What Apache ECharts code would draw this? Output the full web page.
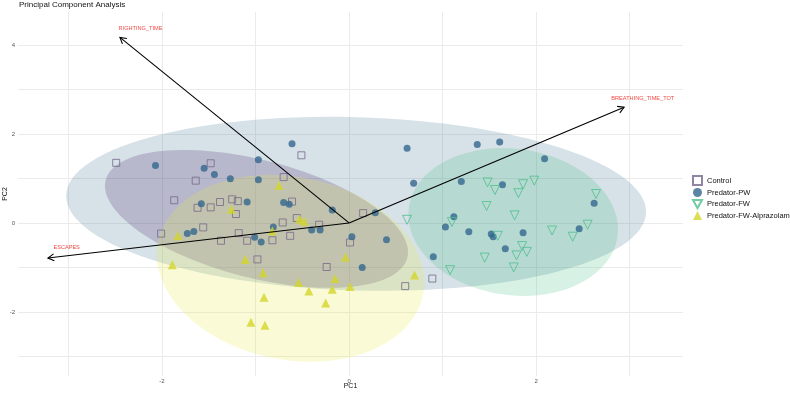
<!DOCTYPE html>
<html>
<head>
<meta charset="utf-8">
<script src="https://cdn.jsdelivr.net/npm/echarts@6/dist/echarts.min.js"></script>
<style>
html, body { margin: 0; padding: 0; background: #fff; }
#pca_chart { width: 790px; height: 393px; }
</style>
</head>
<body>
<div id="pca_chart"></div>
<script>
var groups = ['Control', 'Predator-PW', 'Predator-FW', 'Predator-FW-Alprazolam'];

// PC1 / PC2 scores
var control_pts = [
    [-2.49, 1.35], [-1.48, 1.34], [-1.64, 0.95], [-1.87, 0.51], [-1.62, 0.34],
    [-1.48, 0.35], [-1.38, 0.47], [-1.25, 0.53], [-1.19, 0.49], [-1.21, 0.20],
    [-2.01, -0.24], [-1.56, -0.10], [-1.18, -0.23], [-1.37, -0.40], [-1.09, -0.40],
    [-0.98, -0.82], [-0.51, 1.52], [-0.70, 1.03], [-0.61, 0.48], [0.15, 0.22],
    [-0.56, 0.11], [-0.71, 0.01], [-0.32, -0.04], [-0.82, -0.39], [-0.63, -0.29],
    [0.01, -0.44], [-0.24, -0.99], [0.60, -1.42], [0.89, -1.25]
];
var pw_pts = [
    [-2.07, 1.29], [-1.55, 1.23], [-1.44, 1.09], [-1.27, 0.99], [-0.97, 1.42],
    [-0.97, 0.97], [-1.58, 0.43], [-1.09, 0.47], [-1.73, -0.24], [-1.66, -0.19],
    [-1.01, -0.32], [-0.94, -0.43], [-0.61, 1.78], [-0.70, 0.46], [-0.64, 0.42],
    [-0.18, 0.29], [0.28, 0.23], [-0.81, -0.09], [-0.40, -0.16], [-0.31, -0.16],
    [0.03, -0.31], [0.40, -0.38], [0.14, -1.00], [0.62, 1.68], [0.69, 0.89],
    [1.37, 1.76], [1.61, 1.82], [2.09, 1.44], [1.20, 0.93], [1.64, 0.86],
    [2.62, 0.44], [1.12, 0.14], [1.03, -0.09], [1.28, -0.20], [1.52, -0.25],
    [1.54, -0.31], [1.86, -0.22], [2.46, -0.13], [1.67, -0.58], [0.90, -0.76]
];
var fw_pts = [
    [0.62, 0.07], [1.48, 0.91], [1.56, 0.74], [1.86, 0.87], [1.98, 0.95],
    [1.81, 0.67], [2.64, 0.65], [1.47, 0.38], [1.77, 0.17], [1.10, 0.02],
    [1.59, -0.29], [2.17, -0.17], [2.39, -0.31], [2.55, -0.04], [1.85, -0.52],
    [1.79, -0.73], [1.90, -0.65], [1.45, -0.78], [1.08, -1.06], [1.76, -1.00]
];
var alp_pts = [
    [-1.26, 0.31], [-0.75, 0.84], [-1.83, -0.29], [-1.89, -0.94], [-1.11, -0.82],
    [-0.82, -0.18], [-0.53, 0.09], [-0.48, 0.04], [-0.04, -0.77], [-0.92, -1.12],
    [-0.54, -1.34], [-0.43, -1.53], [-0.15, -1.25], [-0.18, -1.49], [0.01, -1.43],
    [-0.91, -1.67], [-0.25, -1.80], [-1.05, -2.23], [-0.90, -2.30], [0.70, -1.17]
];

// 95% ellipses: centre x, centre y, half width, half height, correlation
var ell_control = [-0.99, 0.09, 1.62, 1.55, -0.48];
var ell_pw = [0.075, 0.43, 3.10, 1.955, -0.09];
var ell_fw = [1.754, 0.02, 1.12, 1.66, -0.10];
var ell_alp = [-0.626, -1.02, 1.43, 2.10, -0.15];

// loading arrows
var loading_names = ['RIGHTING_TIME', 'BREATHING_TIME_TOT', 'ESCAPES'];
var loading_ends = [[-2.45, 4.17], [2.94, 2.60], [-3.22, -0.79]];
var loading_text_pos = [[-2.23, 4.36], [3.14, 2.80], [-3.02, -0.56]];

var x_labels = [-2, 0, 2];
var y_labels = [-2, 0, 2, 4];
var x_grid = [-3, -2, -1, 0, 1, 2, 3];
var y_grid = [-3, -2, -1, 0, 1, 2, 3, 4];

var pt_colors = ['#76688a', '#33678d', '#4fbf8d', '#d3d62a'];
var fill_colors = ['rgba(68,1,84,0.2)', 'rgba(49,104,142,0.2)', 'rgba(53,183,121,0.2)', 'rgba(232,236,70,0.22)'];

function ellipse_series(e, fill) {
    return {
        type: 'custom',
        silent: true,
        data: [[e[0], e[1]]],
        encode: { x: 0, y: 1 },
        renderItem: function (params, api) {
            var pts = [];
            var k = Math.sqrt(1 - e[4] * e[4]);
            for (var i = 0; i < 120; i++) {
                var t = i / 120 * Math.PI * 2;
                var x = e[0] + e[2] * Math.cos(t);
                var y = e[1] + e[3] * (e[4] * Math.cos(t) + k * Math.sin(t));
                pts.push(api.coord([x, y]));
            }
            return { type: 'polygon', shape: { points: pts }, style: { fill: fill, stroke: null } };
        }
    };
}

var arrow_series = {
    type: 'custom',
    silent: true,
    z: 5,
    data: loading_ends.map(function (d, i) { return [d[0], d[1], i]; }),
    encode: { x: 0, y: 1 },
    renderItem: function (params, api) {
        var i = params.dataIndex;
        var p0 = api.coord([0, 0]);
        var p1 = api.coord(loading_ends[i]);
        var ang = Math.atan2(p1[1] - p0[1], p1[0] - p0[0]);
        var len = 7, wing = Math.PI / 6;
        var h1 = [p1[0] - len * Math.cos(ang - wing), p1[1] - len * Math.sin(ang - wing)];
        var h2 = [p1[0] - len * Math.cos(ang + wing), p1[1] - len * Math.sin(ang + wing)];
        var tp = api.coord(loading_text_pos[i]);
        return {
            type: 'group',
            children: [
                { type: 'line', shape: { x1: p0[0], y1: p0[1], x2: p1[0], y2: p1[1] }, style: { stroke: '#000', lineWidth: 1.1 } },
                { type: 'polyline', shape: { points: [h1, p1, h2] }, style: { stroke: '#000', lineWidth: 1.1, fill: null } },
                { type: 'text', x: tp[0], y: tp[1], style: { text: loading_names[i], fill: '#f04a45', fontSize: 5.6, fontFamily: 'Liberation Sans', align: 'center', verticalAlign: 'middle' } }
            ]
        };
    }
};

var pca_option = {
    animation: false,
    backgroundColor: '#fff',
    title: {
        text: 'Principal Component Analysis',
        left: 19,
        top: 1,
        padding: 0,
        textStyle: { fontSize: 8, fontWeight: 'normal', color: '#111', fontFamily: 'Liberation Sans' }
    },
    legend: {
        orient: 'vertical',
        left: 692,
        top: 175,
        padding: 0,
        itemWidth: 9,
        itemHeight: 9,
        itemGap: 2,
        data: [
            groups[0],
            groups[1],
            { name: groups[2], icon: 'path://M0,0L10,0L5,9Z' },
            groups[3]
        ],
        textStyle: { fontSize: 7.5, color: '#111', fontFamily: 'Liberation Sans' }
    },
    grid: { left: 18, right: 107, top: 12, bottom: 17, containLabel: false, outerBoundsMode: 'none' },
    xAxis: {
        type: 'value',
        min: -3.54,
        max: 3.57,
        name: 'PC1',
        nameLocation: 'middle',
        nameGap: 7,
        nameMoveOverlap: false,
        nameTextStyle: { fontSize: 7, color: '#111', fontFamily: 'Liberation Sans', verticalAlign: 'top' },
        axisLine: { show: false },
        axisTick: { show: false, customValues: x_grid },
        axisLabel: { customValues: x_labels, fontSize: 6, color: '#555', margin: 2, fontFamily: 'Liberation Sans' },
        splitLine: { lineStyle: { color: '#ebebeb', width: 1 } }
    },
    yAxis: {
        type: 'value',
        min: -3.44,
        max: 4.74,
        name: 'PC2',
        nameLocation: 'middle',
        nameGap: 9,
        nameMoveOverlap: false,
        nameTextStyle: { fontSize: 7, color: '#111', fontFamily: 'Liberation Sans' },
        axisLine: { show: false },
        axisTick: { show: false, customValues: y_grid },
        axisLabel: { customValues: y_labels, fontSize: 6, color: '#555', margin: 3, fontFamily: 'Liberation Sans' },
        splitLine: { lineStyle: { color: '#ebebeb', width: 1 } }
    },
    series: [
        {
            name: 'Control', type: 'scatter', data: control_pts, symbol: 'rect', symbolSize: 7,
            itemStyle: { color: 'rgba(0,0,0,0)', borderColor: pt_colors[0], borderWidth: 1 }
        },
        {
            name: 'Predator-PW', type: 'scatter', data: pw_pts, symbol: 'circle', symbolSize: 7,
            itemStyle: { color: pt_colors[1] }
        },
        {
            name: 'Predator-FW', type: 'scatter', data: fw_pts, symbol: 'triangle', symbolRotate: 180, symbolSize: 9,
            itemStyle: { color: 'rgba(0,0,0,0)', borderColor: pt_colors[2], borderWidth: 1 }
        },
        {
            name: 'Predator-FW-Alprazolam', type: 'scatter', data: alp_pts, symbol: 'triangle', symbolSize: 9,
            itemStyle: { color: pt_colors[3] }
        },
        ellipse_series(ell_control, fill_colors[0]),
        ellipse_series(ell_pw, fill_colors[1]),
        ellipse_series(ell_fw, fill_colors[2]),
        ellipse_series(ell_alp, fill_colors[3]),
        arrow_series
    ]
};

var pca_chart = echarts.init(document.getElementById('pca_chart'));
pca_chart.setOption(pca_option);
</script>
</body>
</html>
